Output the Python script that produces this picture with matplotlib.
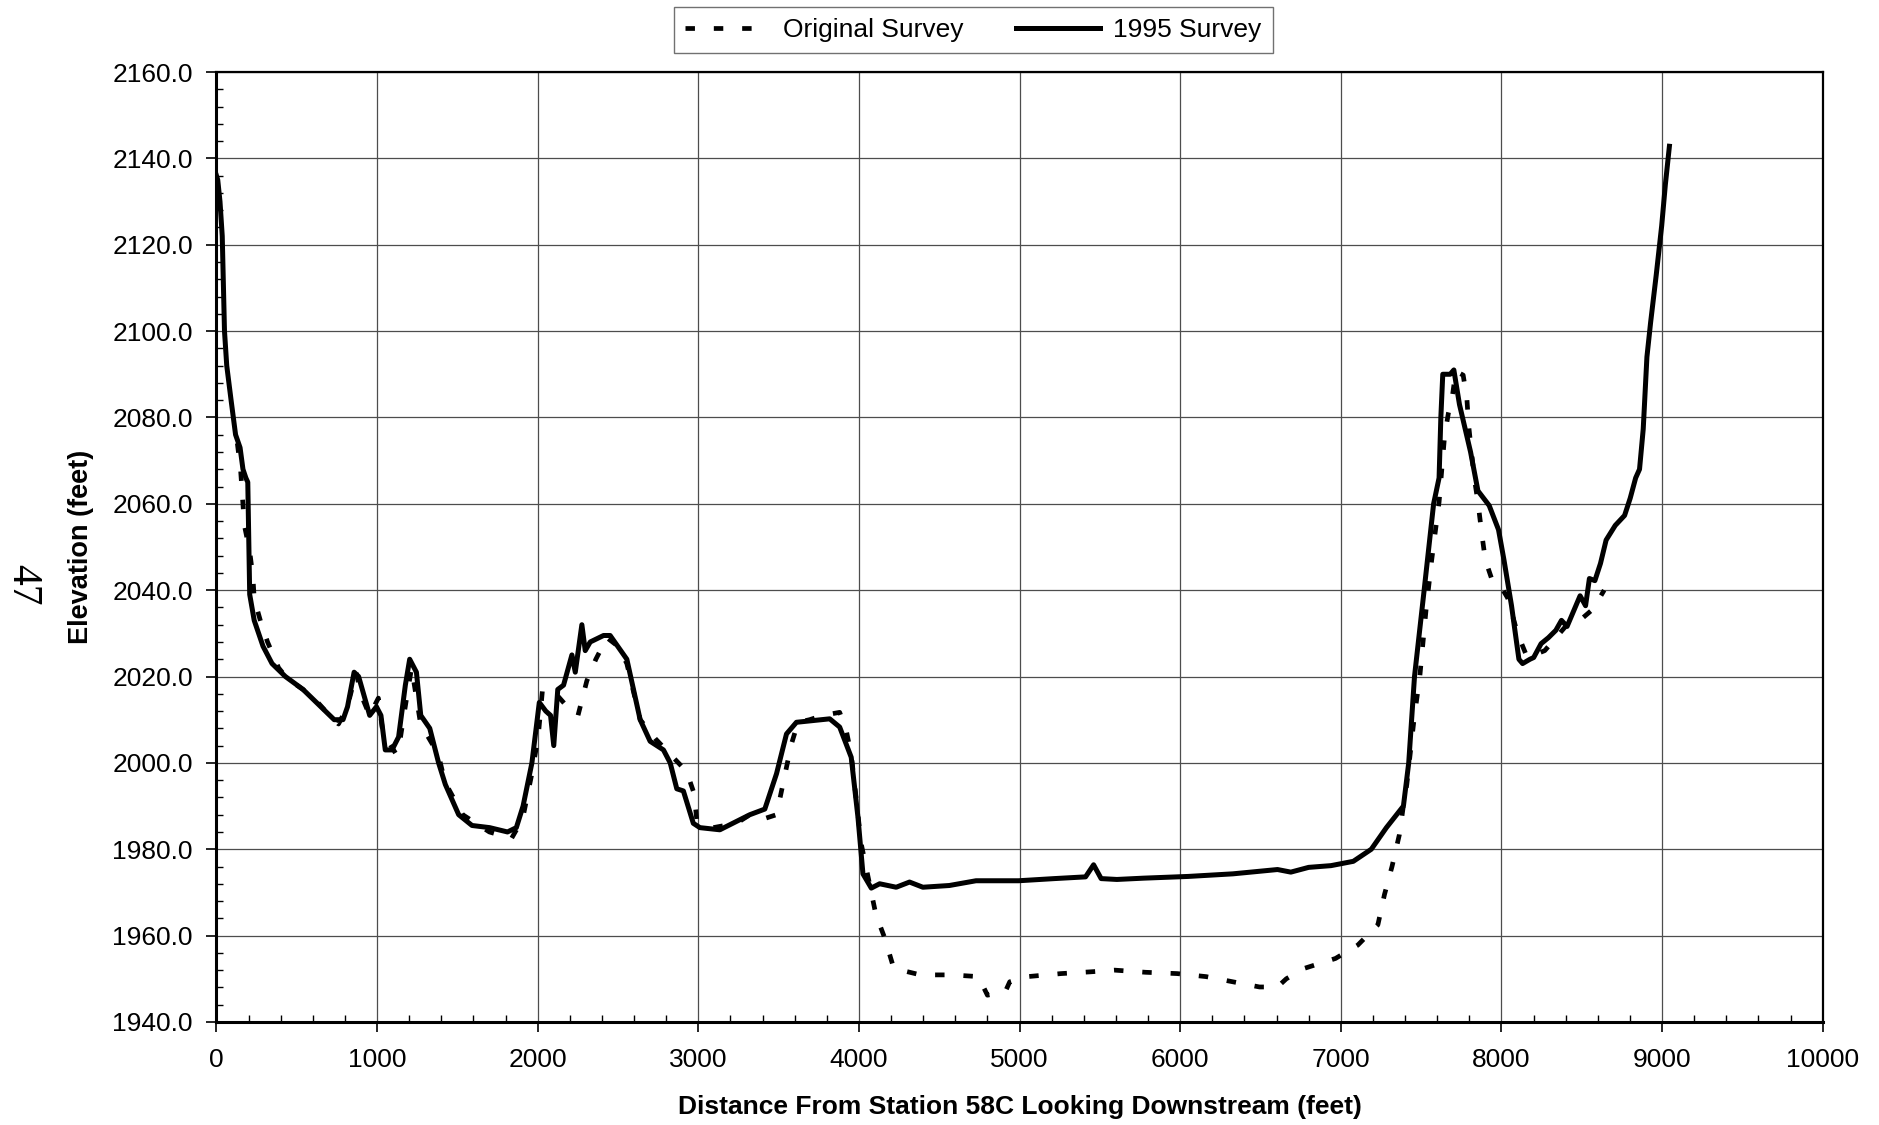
import matplotlib
matplotlib.use("Agg")
import matplotlib.pyplot as plt
from matplotlib.ticker import MultipleLocator, FormatStrFormatter

plt.rcParams['font.family'] = ['Liberation Sans', 'DejaVu Sans']

# ---------------------------------------------------------------------------
# data read off the scanned cross section
# ---------------------------------------------------------------------------
orig_x = [130, 150, 174, 207, 227, 235, 276, 318, 387, 442, 539, 594, 704, 760,
          815, 870, 898, 953, 1008, 1036, 1119, 1146, 1188, 1215, 1271, 1326,
          1381, 1423, 1533, 1699, 1837, 1906, 1961, 2003, 2030, 2113, 2196, 2251,
          2306, 2362, 2431, 2500, 2555, 2638, 2735, 2876, 2927, 2973, 2990, 3093,
          3165, 3238, 3321, 3404, 3487, 3518, 3549, 3580, 3621, 3693, 3776, 3880,
          3921, 3952, 3994, 4014, 4106, 4161, 4217, 4383, 4578, 4744, 4800, 4911,
          4939, 5050, 5258, 5439, 5592, 5786, 5981, 6161, 6328, 6494, 6606, 6661,
          6772, 6967, 7106, 7231, 7272, 7319, 7365, 7388, 7411, 7434, 7457, 7492,
          7531, 7566, 7612, 7646, 7670, 7693, 7716, 7762, 7785, 7796, 7831, 7854,
          7877, 7900, 7947, 8004, 8039, 8100, 8160, 8224, 8270, 8409, 8501, 8570,
          8640]
orig_y = [2074, 2068, 2055, 2049, 2043, 2038, 2032.6, 2028, 2022, 2019.5, 2017,
          2015.5, 2011, 2009, 2013, 2021, 2016, 2011, 2015, 2007, 2002, 2006, 2016,
          2022, 2009, 2005.5, 2002, 1995.5, 1988, 1984, 1982.5, 1987, 1997, 2006,
          2017, 2016, 2012.5, 2011, 2019, 2024, 2029, 2027, 2023, 2010, 2005.5,
          2000, 1998, 1993, 1987, 1985, 1985.5, 1986, 1988, 1987, 1988, 1993.5,
          1999, 2004.4, 2009.4, 2010, 2011, 2011.7, 2007.5, 2002, 1988, 1981.3,
          1964.8, 1959.4, 1952.4, 1950.9, 1950.9, 1950.5, 1946.2, 1947, 1949.3,
          1950.5, 1951.2, 1951.6, 1952, 1951.5, 1951.2, 1950.5, 1949.3, 1948.1,
          1948.1, 1950, 1952.4, 1954.7, 1957.8, 1962.5, 1969.5, 1976, 1983.4,
          1989.6, 1995, 2002.7, 2010.4, 2020, 2035.5, 2047, 2060.4, 2075.6, 2081,
          2084.4, 2090.7, 2089.8, 2084.4, 2078.2, 2066, 2060.4, 2053.3, 2047,
          2041.8, 2040.4, 2038.2, 2030, 2024.5, 2025.3, 2026, 2032, 2033.4, 2035.6,
          2040]

s95_x = [0, 8, 22, 36, 50, 64, 91, 119, 147, 165, 183, 195, 207, 235, 290, 346,
         429, 539, 650, 733, 788, 816, 857, 885, 954, 996, 1024, 1051, 1093, 1134,
         1176, 1203, 1245, 1272, 1328, 1383, 1425, 1508, 1591, 1701, 1812, 1867,
         1909, 1964, 2010, 2050, 2080, 2100, 2125, 2161, 2213, 2234, 2275, 2296,
         2327, 2410, 2451, 2555, 2638, 2700, 2783, 2825, 2866, 2907, 2969, 3010,
         3134, 3321, 3414, 3487, 3549, 3611, 3818, 3880, 3952, 3994, 4025, 4077,
         4129, 4232, 4315, 4398, 4563, 4729, 4874, 4994, 5217, 5411, 5461, 5508,
         5606, 5772, 6050, 6328, 6606, 6689, 6800, 6939, 7078, 7190, 7284, 7390,
         7423, 7459, 7519, 7578, 7612, 7623, 7635, 7681, 7704, 7739, 7808, 7854,
         7924, 7982, 8016, 8063, 8109, 8132, 8178, 8201, 8247, 8293, 8339, 8374,
         8409, 8455, 8490, 8524, 8548, 8582, 8617, 8652, 8709, 8767, 8802, 8836,
         8860, 8883, 8906, 8929, 8964, 8998, 9021, 9046]
s95_y = [2136, 2135, 2130, 2122, 2100, 2092, 2084, 2076, 2073, 2068, 2066, 2065,
         2039, 2033, 2027, 2023, 2020, 2017, 2013, 2010, 2010, 2013, 2021, 2020,
         2011, 2013, 2011, 2003, 2003, 2006, 2018, 2024, 2021, 2011, 2008, 2000,
         1995, 1988, 1985.5, 1985, 1984, 1985, 1990, 2000, 2014, 2012, 2011, 2004,
         2017, 2018, 2025, 2021, 2032, 2026, 2028, 2029.5, 2029.5, 2024, 2010, 2005,
         2003, 2000, 1994, 1993.5, 1986, 1985, 1984.5, 1988, 1989.3, 1997.5,
         2006.7, 2009.4, 2010.2, 2008.3, 2001.3, 1987.4, 1974.3, 1971, 1972,
         1971.2, 1972.4, 1971.2, 1971.6, 1972.7, 1972.7, 1972.7, 1973.2, 1973.6,
         1976.4, 1973.2, 1973, 1973.3, 1973.7, 1974.3, 1975.3, 1974.7, 1975.8,
         1976.2, 1977.2, 1980, 1985, 1990, 2000, 2020, 2040, 2060, 2066, 2080, 2090,
         2090, 2091, 2083, 2072, 2063, 2059.6, 2054, 2047, 2036.4, 2024, 2023,
         2024, 2024.4, 2027.6, 2029, 2030.7, 2033, 2031.6, 2035.6, 2038.7, 2036.4,
         2042.7, 2042.2, 2046.2, 2051.6, 2055, 2057.3, 2061.3, 2066, 2068, 2077.3,
         2094, 2102, 2113, 2124.4, 2134, 2142.8]

y_ticks = [1940 + 20 * i for i in range(12)]
x_ticks = [1000 * i for i in range(11)]

# ---------------------------------------------------------------------------
fig = plt.figure(figsize=(18.79, 11.25), dpi=100)
ax = fig.add_axes([0.1152, 0.0916, 0.8548, 0.8444])

ax.plot(orig_x, orig_y, color='black', lw=3.4, linestyle=(0, (2.0, 4.0)),
        dash_capstyle='butt', label='Original Survey', zorder=3)
ax.plot(s95_x, s95_y, color='black', lw=3.6, solid_joinstyle='round',
        label='1995 Survey', zorder=4)

ax.set_xlim(0, 10000)
ax.set_ylim(1940, 2160)
ax.set_xticks(x_ticks)
ax.set_yticks(y_ticks)
ax.xaxis.set_minor_locator(MultipleLocator(200))
ax.yaxis.set_minor_locator(MultipleLocator(4))
ax.yaxis.set_major_formatter(FormatStrFormatter('%.1f'))

ax.tick_params(which='major', direction='out', length=7, width=1.2,
               labelsize=19, pad=10, colors='black')
ax.tick_params(which='minor', direction='in', length=5, width=1.0)
ax.tick_params(axis='x', which='major', pad=12)

ax.grid(True, which='major', color='0.3', linewidth=0.9)
for sp in ax.spines.values():
    sp.set_linewidth(1.6)
ax.spines['left'].set_linewidth(2.2)
ax.spines['bottom'].set_linewidth(2.2)

ax.set_xlabel('Distance From Station 58C Looking Downstream (feet)',
              fontsize=19, fontweight='bold', labelpad=16)
ax.set_ylabel('Elevation (feet)', fontsize=19.5, fontweight='bold', labelpad=13)

leg = fig.legend(loc='center', bbox_to_anchor=(0.518, 0.973), ncol=2,
                 fontsize=19, frameon=True, fancybox=False, handlelength=3.2,
                 columnspacing=2.0, borderpad=0.42, handletextpad=0.5)
leg.get_frame().set_edgecolor('0.3')
leg.get_frame().set_linewidth(1.0)

# rotated page number at the left margin
fig.text(0.012, 0.48, '47', rotation=270, fontsize=30, ha='center',
         va='center', family=['Liberation Serif', 'DejaVu Serif'])

fig.savefig('out.png', dpi=100)
